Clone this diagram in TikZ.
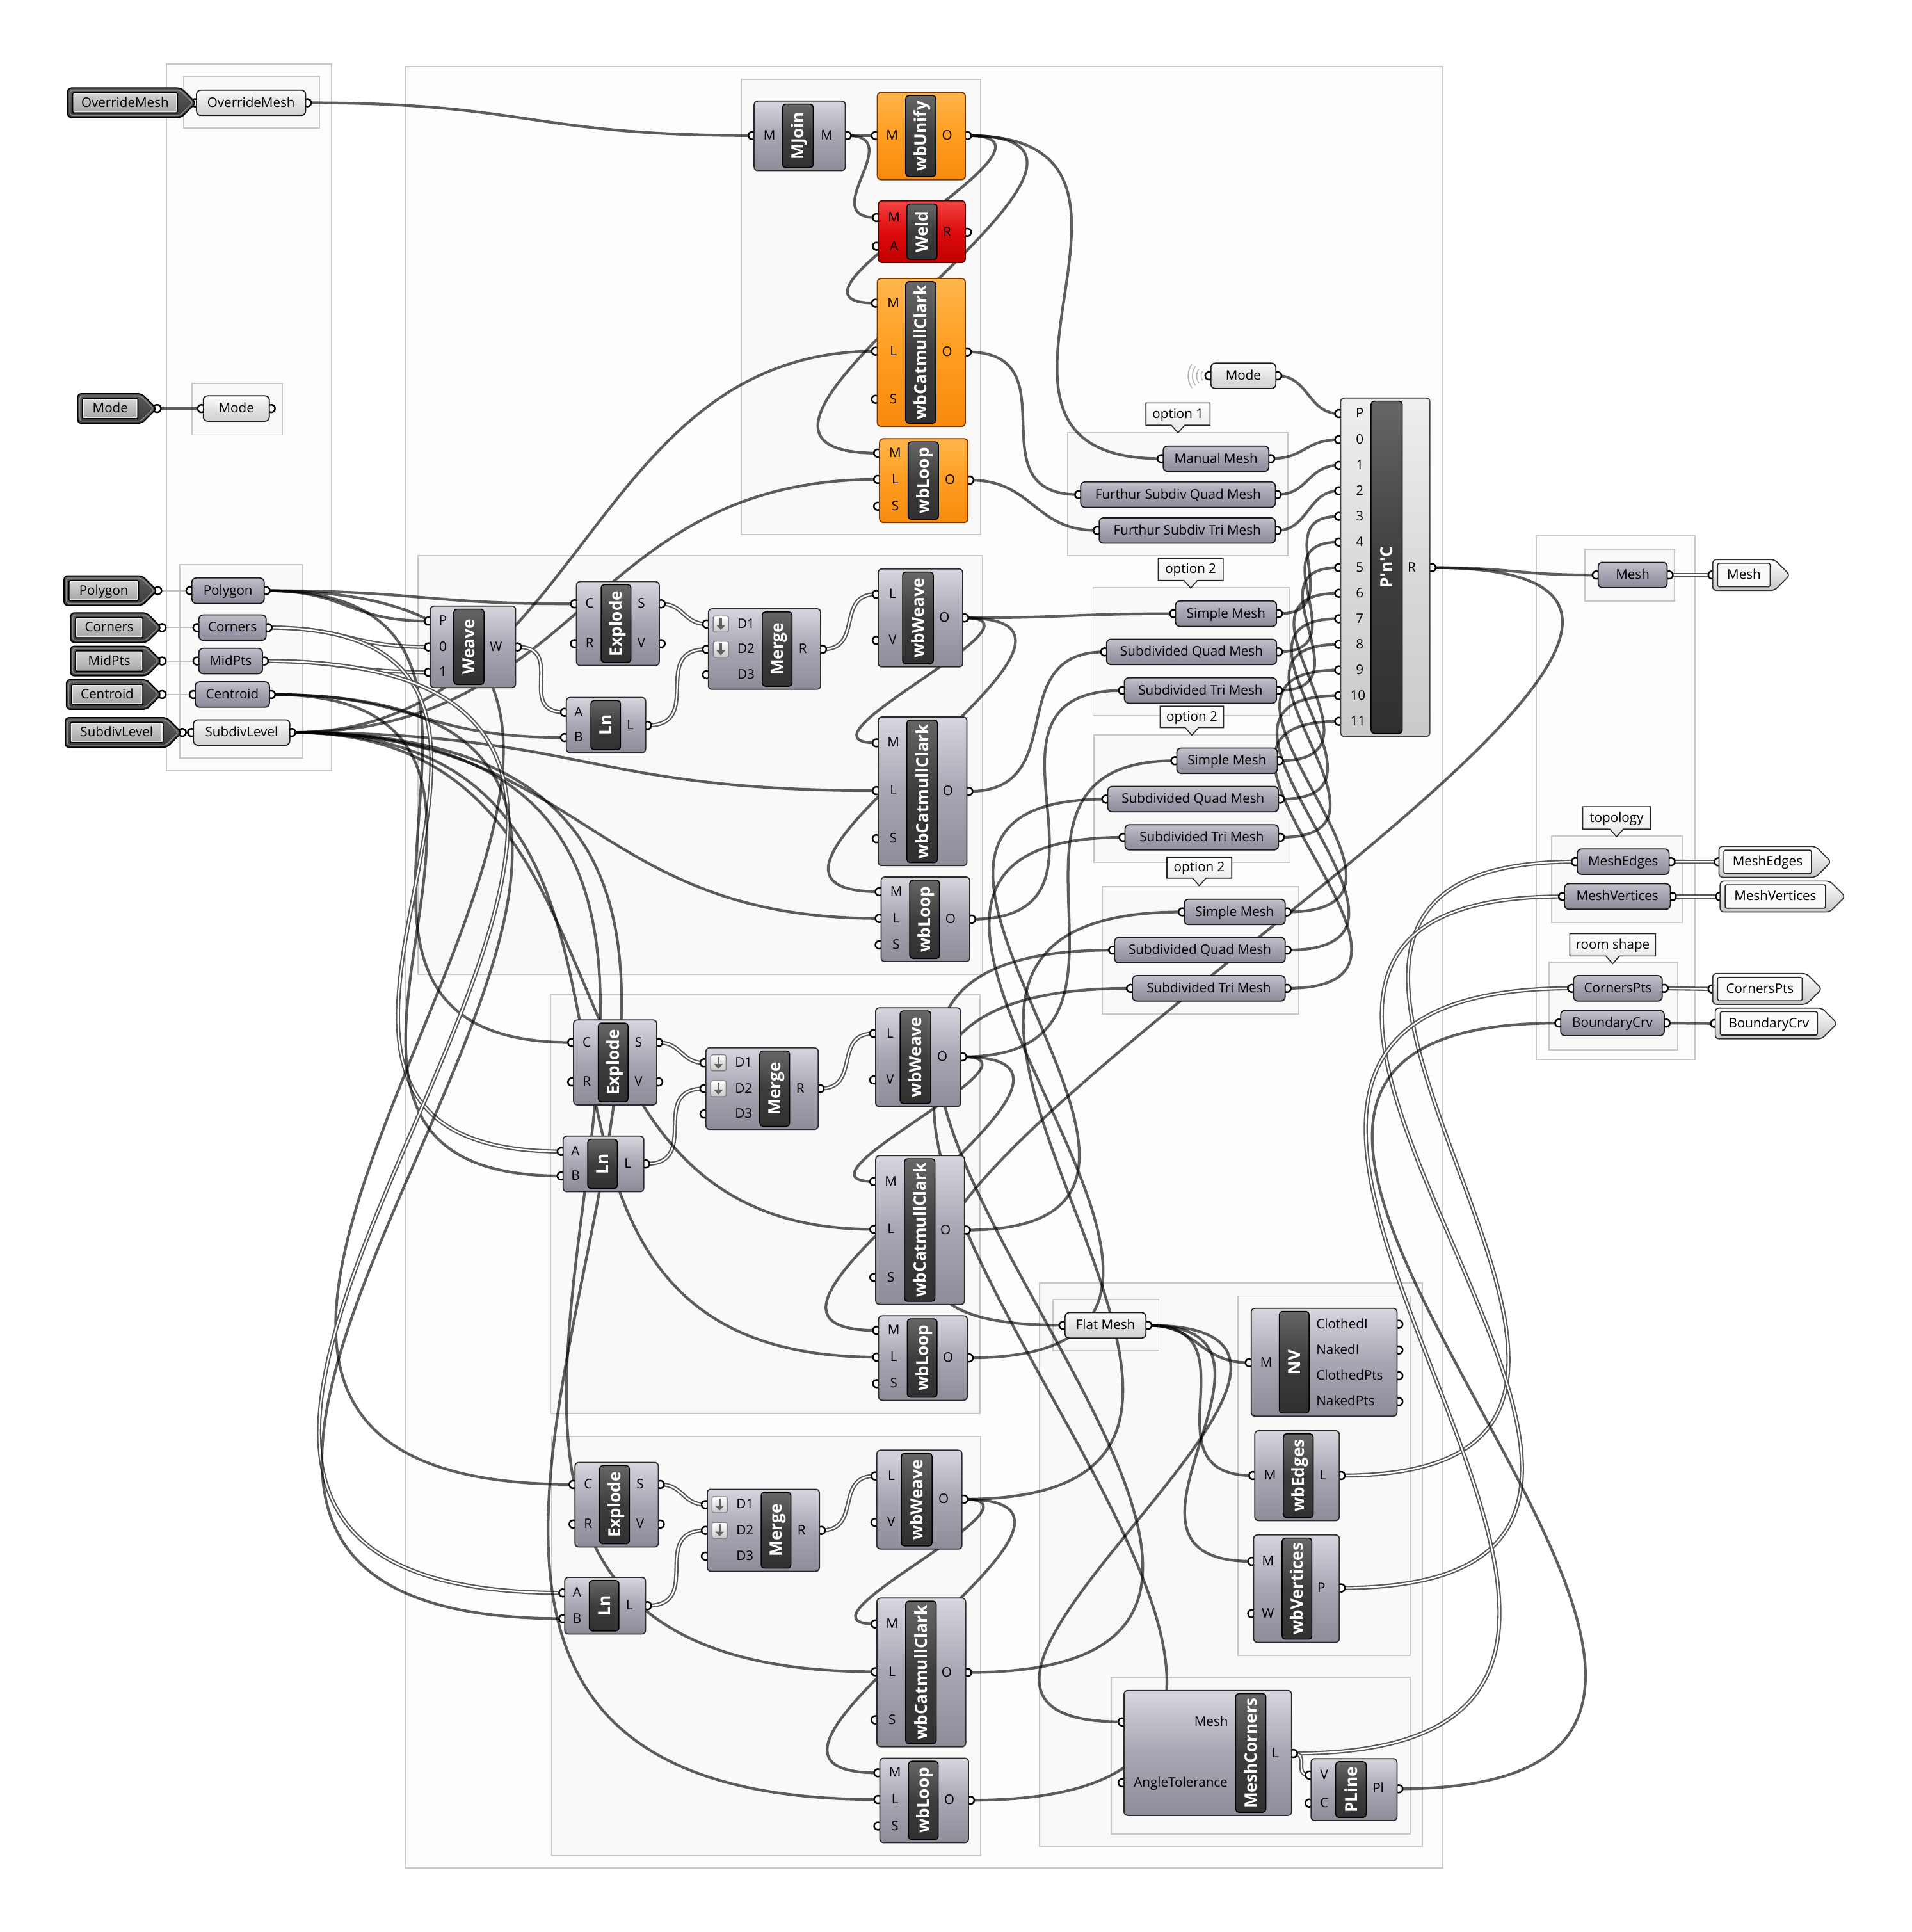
\documentclass[tikz,border=0pt]{standalone}
\usepackage{fontspec}
\setmainfont{Open Sans}
\usetikzlibrary{calc,arrows.meta}
\pgfdeclarelayer{groups}
\pgfdeclarelayer{wires}
\pgfdeclarelayer{ports}
\pgfsetlayers{groups,wires,ports,main}
\definecolor{grpline}{HTML}{C8C8C8}
\definecolor{grpfill}{HTML}{FDFDFD}
\definecolor{grpfilltwo}{HTML}{F9F9F9}
\definecolor{compline}{HTML}{2A2A2A}
\definecolor{compt}{HTML}{D6D6DE}
\definecolor{compm}{HTML}{A7A7B4}
\definecolor{compb}{HTML}{8D8D9A}
\definecolor{ort}{HTML}{FFB64C}
\definecolor{orm}{HTML}{FF9D20}
\definecolor{orb}{HTML}{F78A0E}
\definecolor{orline}{HTML}{7A3500}
\definecolor{redt}{HTML}{F24444}
\definecolor{redm}{HTML}{DD0C0C}
\definecolor{redb}{HTML}{C20000}
\definecolor{redline}{HTML}{550000}
\definecolor{pnct}{HTML}{EFEFEF}
\definecolor{pncm}{HTML}{DADADA}
\definecolor{pncb}{HTML}{CACACA}
\definecolor{lblt}{HTML}{666666}
\definecolor{lblm}{HTML}{3D3D3D}
\definecolor{lblb}{HTML}{303030}
\definecolor{part}{HTML}{C2C2CC}
\definecolor{parm}{HTML}{A2A2B0}
\definecolor{parb}{HTML}{8B8B99}
\definecolor{plt}{HTML}{FBFBFB}
\definecolor{plm}{HTML}{E4E4E4}
\definecolor{plb}{HTML}{D0D0D0}
\definecolor{tagtop}{HTML}{5C5C5C}
\definecolor{tagbot}{HTML}{3A3A3A}
\definecolor{tagt}{HTML}{D6D6D6}
\definecolor{tagb}{HTML}{A4A4A4}
\definecolor{wirec}{HTML}{585858}
\tikzset{
  grp/.style={draw=grpline,fill=grpfill,line width=1pt},
  grpin/.style={fill=grpfilltwo},
  compbox/.style={rectangle,rounded corners=3pt,draw=compline,line width=0.9pt,top color=compt,bottom color=compb,middle color=compm,inner sep=0pt,outer sep=0pt},
  orangebox/.style={draw=orline,top color=ort,bottom color=orb,middle color=orm},
  redbox/.style={draw=redline,top color=redt,bottom color=redb,middle color=redm},
  pncbox/.style={draw=black!75,top color=pnct,bottom color=pncb,middle color=pncm},
  lblbox/.style={rectangle,rounded corners=2.5pt,draw=black,line width=0.8pt,top color=lblt,bottom color=lblb,middle color=lblm,inner sep=0pt,outer sep=0pt},
  lbltext/.style={text=white,font=\fontsize{13.6}{14}\selectfont\bfseries,rotate=90,inner sep=0pt,text height=10.2pt,text depth=0.4pt},
  plab/.style={font=\fontsize{10.7}{12}\selectfont,text=black,inner sep=0pt,text height=7.6pt,text depth=0.8pt},
  parbox/.style={rectangle,rounded corners=3.5pt,draw=black!90,line width=0.9pt,top color=part,bottom color=parb,middle color=parm,inner sep=0pt,outer sep=0pt,font=\fontsize{10.7}{12}\selectfont,text height=7.6pt,text depth=0.8pt},
  parlight/.style={top color=plt,bottom color=plb,middle color=plm},
  portc/.style={draw=black,fill=white,line width=1.3pt},
  wire/.style={draw=black,draw opacity=0.63,line width=2.2pt},
  dbl/.style={draw=wirec,draw opacity=1,line width=1.1pt,double=white,double distance=1.15pt},
  taglink/.style={draw=black!25,line width=1pt},
  tagout/.style={draw=black,line width=1pt,top color=tagtop,bottom color=tagbot,rounded corners=3pt},
  taghl/.style={draw=black!45,line width=0.7pt,rounded corners=2pt},
  tagin/.style={rectangle,draw=black,line width=0.9pt,top color=tagt,bottom color=tagb,inner sep=0pt,rounded corners=1pt,font=\fontsize{10.7}{12}\selectfont,text height=7.6pt,text depth=0.8pt},
  tagil/.style={draw=white,draw opacity=0.7,line width=0.6pt},
  tagoutl/.style={draw=black!80,line width=0.9pt,top color=white,bottom color=black!22,rounded corners=3pt},
  taginl/.style={rectangle,draw=black!85,line width=0.8pt,fill=black!2,inner sep=0pt,rounded corners=1pt,font=\fontsize{10.7}{12}\selectfont,text height=7.6pt,text depth=0.8pt},
  tipshape/.style={draw=black!85,line width=0.8pt,top color=white,bottom color=black!10},
  micon/.style={rectangle,draw=black!50,line width=0.7pt,rounded corners=1.5pt,top color=white,bottom color=black!22,minimum width=12.5pt,minimum height=13pt,inner sep=0pt},
  miconarrow/.style={draw=black!62,line width=1.7pt,-{Triangle[length=3.8pt,width=6.8pt]}},
  wless/.style={draw=black!30,line width=0.8pt}
}
\newcommand\ghgrp[5][]{\begin{pgfonlayer}{groups}\draw[grp,#1] (#2,#3) rectangle (#4,#5);\end{pgfonlayer}}
\newcommand\ghpc[3]{\coordinate (#1) at (#2,#3);\begin{pgfonlayer}{ports}\draw[portc] (#2,#3) circle[radius=3.1pt];\end{pgfonlayer}}
\newcommand\ghpin[6][]{\ghpc{#2}{#3}{#4}\node[plab,#1] (#2-t) at (#5,#4) {#6};}
\newcommand\ghcomp[9][]{%
  \node[compbox,#1,minimum width={#5-#3},minimum height={#6-#4}] (#2) at ({(#3+#5)/2},{(#4+#6)/2}) {};
  \node[lblbox,minimum width={#8-#7},minimum height={#6-#4-5}] (#2-lb) at ({(#7+#8)/2},{(#4+#6)/2}) {};
  \node[lbltext] (#2-lt) at ({(#7+#8)/2},{(#4+#6)/2}) {#9};}
\newcommand\ghparam[6][]{%
  \node[parbox,#1,minimum width={#4-#3},minimum height=20.6] (#2) at ({(#3+#4)/2},#5) {#6};
  \ghpc{#2-i}{#3-1.5}{#5}\ghpc{#2-o}{#4+1.5}{#5}}
\newcommand\ghintag[5]{%
  \draw[tagout] (#2,#4-12) -- (#3-12,#4-12) -- (#3,#4) -- (#3-12,#4+12) -- (#2,#4+12) -- cycle;
  \draw[taghl] (#2+1.8,#4-10.2) -- (#3-12.8,#4-10.2) -- (#3-2.4,#4) -- (#3-12.8,#4+10.2) -- (#2+1.8,#4+10.2) -- cycle;
  \node[tagin,minimum width={#3-#2-19},minimum height=16.5] (#1) at ({(#2+#3-11)/2},#4) {};
  \draw[tagil] ($(#1.south west)+(1.4pt,1.4pt)$) rectangle ($(#1.north east)+(-1.4pt,-1.4pt)$);
  \node[plab] (#1-tx) at (#1.center) {#5};
  \ghpc{#1-o}{#3+0.5}{#4}}
\newcommand\ghouttag[5]{%
  \draw[tagoutl] (#2,#4-12.5) -- (#3-12.5,#4-12.5) -- (#3,#4) -- (#3-12.5,#4+12.5) -- (#2,#4+12.5) -- cycle;
  \node[taginl,minimum width={#3-#2-20},minimum height=19] (#1) at ({(#2+#3-12)/2},#4) {#5};
  \ghpc{#1-i}{#2-0.5}{#4}}
\newcommand\ghtip[6]{%
  \draw[tipshape] (#2,#3) -- (#4,#3) -- (#4,#5) -- ({(#2+#4)/2+5.5},#5) -- ({(#2+#4)/2},#5+6.2) -- ({(#2+#4)/2-5.5},#5) -- (#2,#5) -- cycle;
  \node[plab] (#1) at ({(#2+#4)/2},{(#3+#5)/2}) {#6};}
\newcommand\ghicon[3]{%
  \node[micon] (#1) at (#2,#3) {};
  \draw[miconarrow] (#2,#3-5) -- (#2,#3+4.8);}
\newcommand\ghwire[3][]{%
  \begin{pgfonlayer}{wires}
  \draw[wire,#1] let \p1=(#2),\p2=(#3),\n1={max(0.5*abs(\x2-\x1),0.75*abs(\y2-\y1))} in (\p1) .. controls (\x1+\n1*1pt,\y1) and (\x2-\n1*1pt,\y2) .. (\p2);
  \end{pgfonlayer}}
\begin{document}
\begin{tikzpicture}[x=1pt,y=-1pt]
\begin{pgfonlayer}{groups}
\fill[white] (0,0) rectangle (1551.2,1567.8);
\end{pgfonlayer}
\useasboundingbox (0,0) rectangle (1551.2,1567.8);
% ---------------- groups
\ghgrp{135}{52}{269}{625.5}
\ghgrp[grpin]{149}{62}{259}{104}
\ghgrp[grpin]{156}{311}{229}{353}
\ghgrp[grpin]{145.8}{458}{245.5}{615}
\ghgrp{328.6}{54}{1170.7}{1515.6}
\ghgrp[grpin]{601.5}{64.6}{796}{434}
\ghgrp[grpin]{339.3}{451}{797.2}{790.6}
\ghgrp[grpin]{447}{807.3}{795.3}{1147}
\ghgrp[grpin]{447.8}{1165.9}{796}{1505.8}
\ghgrp[grpin]{843.6}{1041}{1154.2}{1498.2}
\ghgrp[grpin]{854.3}{1054.4}{940.5}{1096.1}
\ghgrp[grpin]{1004.7}{1051.7}{1144.3}{1343.3}
\ghgrp[grpin]{902}{1361.2}{1144.3}{1488.1}
\ghgrp[grpin]{866.5}{351}{1045}{451}
\ghgrp[grpin]{887}{476.7}{1046.6}{580.8}
\ghgrp[grpin]{888}{596.4}{1047}{700}
\ghgrp[grpin]{894.6}{719.4}{1054}{823}
\ghgrp{1246.8}{435}{1375.6}{860}
\ghgrp[grpin]{1286}{445.7}{1359}{487.6}
\ghgrp[grpin]{1259}{678.5}{1365}{748.6}
\ghgrp[grpin]{1257}{781}{1361.6}{852}
% ---------------- input tags and params
\ghintag{tOM}{55}{159}{83.4}{OverrideMesh}
\ghintag{tMode}{63}{127}{331.5}{Mode}
\ghintag{tPoly}{52}{127.5}{479.3}{Polygon}
\ghintag{tCorn}{57.3}{131}{509.3}{Corners}
\ghintag{tMid}{57.3}{131}{536.4}{MidPts}
\ghintag{tCent}{54}{131}{563.6}{Centroid}
\ghintag{tSub}{53}{147.4}{594.4}{SubdivLevel}
\ghparam[parlight]{pOM}{159.5}{248}{83.4}{OverrideMesh}
\ghparam[parlight]{pMode}{165}{218.6}{331.5}{Mode}
\ghparam{pPoly}{155.7}{214.4}{479.3}{Polygon}
\ghparam{pCorn}{161.4}{216}{509.3}{Corners}
\ghparam{pMid}{161.4}{213}{536.4}{MidPts}
\ghparam{pCent}{158.4}{218.7}{563.6}{Centroid}
\ghparam[parlight]{pSub}{157}{235.2}{594.4}{SubdivLevel}
% ---------------- top group
\ghcomp{mjoin}{612}{82}{686}{138.5}{635}{660}{MJoin}
\ghpin{mjoin-Mi}{610.5}{110}{624.5}{M}
\ghpin{mjoin-Mo}{687.5}{110}{671}{M}
\ghcomp[orangebox]{unify}{712}{75}{783.4}{145.8}{735}{759.5}{wbUnify}
\ghpin{unify-M}{710.5}{110}{724}{M}
\ghpin{unify-O}{785}{110}{768.6}{O}
\ghcomp[redbox]{weld}{712.8}{163}{783.4}{213}{736}{760.5}{Weld}
\ghpin{weld-M}{711.3}{176.6}{725.5}{M}
\ghpin{weld-A}{711.3}{199.8}{725.5}{A}
\ghpin{weld-R}{785}{188.5}{768.6}{R}
\ghcomp[orangebox]{cc0}{712}{226}{783.4}{346}{735}{759.5}{wbCatmullClark}
\ghpin{cc0-M}{710.5}{246}{725}{M}
\ghpin{cc0-L}{710.5}{285}{725}{L}
\ghpin{cc0-S}{710.5}{324}{725}{S}
\ghpin{cc0-O}{785}{285.6}{768.6}{O}
\ghcomp[orangebox]{lp0}{713.8}{356}{785.5}{424}{737}{761.6}{wbLoop}
\ghpin{lp0-M}{712.3}{367.7}{726.5}{M}
\ghpin{lp0-L}{712.3}{389}{726.5}{L}
\ghpin{lp0-S}{712.3}{410.8}{726.5}{S}
\ghpin{lp0-O}{787}{389.6}{771}{O}
% ---------------- group 2
\ghcomp{weave}{349.2}{491.8}{418.5}{558}{368.3}{392.8}{Weave}
\ghpin{weave-P}{347.7}{504}{359.5}{P}
\ghpin{weave-0}{347.7}{525}{359.5}{0}
\ghpin{weave-1}{347.7}{545.5}{359.5}{1}
\ghpin{weave-W}{420}{525}{402.6}{W}
\ghcomp{ex2}{467.8}{472}{535}{540}{487.8}{512}{Explode}
\ghpin{ex2-C}{466.3}{490}{478.5}{C}
\ghpin{ex2-R}{466.3}{522.3}{478.5}{R}
\ghpin{ex2-S}{536.5}{490}{520.5}{S}
\ghpin{ex2-V}{536.5}{522.3}{520.5}{V}
\ghcomp{ln2}{459.6}{566}{524}{610.8}{479.5}{503.6}{Ln}
\ghpin{ln2-A}{458.1}{578}{469.5}{A}
\ghpin{ln2-B}{458.1}{598.5}{469.5}{B}
\ghpin{ln2-L}{525.5}{588.6}{511.5}{L}
\ghcomp{mg2}{574.9}{494}{666}{559.4}{618.6}{642.8}{Merge}
\ghpin{mg2-D1}{573.4}{506.4}{605.5}{D1}
\ghpin{mg2-D2}{573.4}{526.9}{605.5}{D2}
\ghpin{mg2-D3}{573.4}{547.5}{605.5}{D3}
\ghpin{mg2-R}{667.5}{526.9}{651.5}{R}
\ghicon{mg2-ia}{585}{506.4}
\ghicon{mg2-ib}{585}{526.9}
\ghcomp{ww2}{712.7}{461.7}{781.3}{541.2}{732.5}{757.4}{wbWeave}
\ghpin{ww2-L}{711.2}{482.2}{724.4}{L}
\ghpin{ww2-V}{711.2}{519.6}{724.4}{V}
\ghpin{ww2-O}{782.8}{501.4}{766.4}{O}
\ghcomp{cc2}{712.7}{581.8}{784.7}{702.5}{736}{760.8}{wbCatmullClark}
\ghpin{cc2-M}{711.2}{602.8}{725}{M}
\ghpin{cc2-L}{711.2}{641.6}{725}{L}
\ghpin{cc2-S}{711.2}{680.6}{725}{S}
\ghpin{cc2-O}{786.2}{642.2}{769.3}{O}
\ghcomp{lp2}{715}{711.7}{787}{780.3}{738.3}{762.4}{wbLoop}
\ghpin{lp2-M}{713.5}{723.6}{727.3}{M}
\ghpin{lp2-L}{713.5}{745.3}{727.3}{L}
\ghpin{lp2-S}{713.5}{766.8}{727.3}{S}
\ghpin{lp2-O}{788.5}{745.9}{771.4}{O}
% ---------------- group 3
\ghcomp{ex3}{465.5}{827.7}{533}{896.6}{485.5}{509.7}{Explode}
\ghpin{ex3-C}{464}{846}{476.2}{C}
\ghpin{ex3-R}{464}{878}{476.2}{R}
\ghpin{ex3-S}{534.5}{846}{518.2}{S}
\ghpin{ex3-V}{534.5}{878}{518.2}{V}
\ghcomp{ln3}{457}{922}{522.5}{967}{477}{501}{Ln}
\ghpin{ln3-A}{455.5}{934.4}{467}{A}
\ghpin{ln3-B}{455.5}{954.3}{467}{B}
\ghpin{ln3-L}{524}{944.5}{509.5}{L}
\ghcomp{mg3}{572.9}{850.3}{664}{916.5}{616.6}{640.8}{Merge}
\ghpin{mg3-D1}{571.4}{862.5}{603.5}{D1}
\ghpin{mg3-D2}{571.4}{883.4}{603.5}{D2}
\ghpin{mg3-D3}{571.4}{904}{603.5}{D3}
\ghpin{mg3-R}{665.5}{883.4}{649.5}{R}
\ghicon{mg3-ia}{583}{862.5}
\ghicon{mg3-ib}{583}{883.4}
\ghcomp{ww3}{710.6}{817.8}{779.7}{898}{730.5}{755.4}{wbWeave}
\ghpin{ww3-L}{709.1}{838.7}{722.3}{L}
\ghpin{ww3-V}{709.1}{876.4}{722.3}{V}
\ghpin{ww3-O}{781.2}{857.6}{764.8}{O}
\ghcomp{cc3}{710.7}{937.8}{782.7}{1058.5}{734}{758.8}{wbCatmullClark}
\ghpin{cc3-M}{709.2}{958.8}{723}{M}
\ghpin{cc3-L}{709.2}{997.6}{723}{L}
\ghpin{cc3-S}{709.2}{1036.6}{723}{S}
\ghpin{cc3-O}{784.2}{998.2}{767.3}{O}
\ghcomp{lp3}{713}{1067.7}{785}{1136.3}{736.3}{760.4}{wbLoop}
\ghpin{lp3-M}{711.5}{1079.6}{725.3}{M}
\ghpin{lp3-L}{711.5}{1101.3}{725.3}{L}
\ghpin{lp3-S}{711.5}{1122.8}{725.3}{S}
\ghpin{lp3-O}{786.5}{1101.9}{769.4}{O}
% ---------------- group 4
\ghcomp{ex4}{466.6}{1186.8}{534.3}{1255.3}{486.6}{510.8}{Explode}
\ghpin{ex4-C}{465.1}{1204.6}{477.3}{C}
\ghpin{ex4-R}{465.1}{1236.8}{477.3}{R}
\ghpin{ex4-S}{535.8}{1204.6}{519.5}{S}
\ghpin{ex4-V}{535.8}{1236.8}{519.5}{V}
\ghcomp{ln4}{458.3}{1280}{523.9}{1326}{478.2}{502.3}{Ln}
\ghpin{ln4-A}{456.8}{1292.6}{468.3}{A}
\ghpin{ln4-B}{456.8}{1313.5}{468.3}{B}
\ghpin{ln4-L}{525.4}{1303}{510.9}{L}
\ghcomp{mg4}{574}{1208.5}{665}{1275}{617.7}{641.9}{Merge}
\ghpin{mg4-D1}{572.5}{1221}{604.6}{D1}
\ghpin{mg4-D2}{572.5}{1241.9}{604.6}{D2}
\ghpin{mg4-D3}{572.5}{1262.8}{604.6}{D3}
\ghpin{mg4-R}{666.5}{1241.9}{650.5}{R}
\ghicon{mg4-ia}{584}{1221}
\ghicon{mg4-ib}{584}{1241.9}
\ghcomp{ww4}{711.6}{1176.8}{780.7}{1257}{731.5}{756.4}{wbWeave}
\ghpin{ww4-L}{710.1}{1197.7}{723.3}{L}
\ghpin{ww4-V}{710.1}{1235.4}{723.3}{V}
\ghpin{ww4-O}{782.2}{1216.6}{765.8}{O}
\ghcomp{cc4}{711.7}{1296.8}{783.7}{1417.5}{735}{759.8}{wbCatmullClark}
\ghpin{cc4-M}{710.2}{1317.8}{724}{M}
\ghpin{cc4-L}{710.2}{1356.6}{724}{L}
\ghpin{cc4-S}{710.2}{1395.6}{724}{S}
\ghpin{cc4-O}{785.2}{1357.2}{768.3}{O}
\ghcomp{lp4}{714}{1426.7}{786}{1495.3}{737.3}{761.4}{wbLoop}
\ghpin{lp4-M}{712.5}{1438.6}{726.3}{M}
\ghpin{lp4-L}{712.5}{1460.3}{726.3}{L}
\ghpin{lp4-S}{712.5}{1481.8}{726.3}{S}
\ghpin{lp4-O}{787.5}{1460.9}{770.4}{O}
% ---------------- option params
\ghtip{tt1}{930}{327}{982}{345}{option 1}
\ghtip{tt2}{940}{453}{992.6}{471}{option 2}
\ghtip{tt3}{941.5}{573}{993}{590.4}{option 2}
\ghtip{tt4}{947}{695.6}{999.6}{712.6}{option 2}
\ghtip{tt5}{1284.4}{654.6}{1339.5}{672.8}{topology}
\ghtip{tt6}{1274}{757.7}{1343.6}{775.8}{room shape}
\ghparam{mm}{944}{1029.7}{372.2}{Manual Mesh}
\ghparam{fq}{877}{1035}{401.4}{Furthur Subdiv Quad Mesh}
\ghparam{ft}{892}{1035}{430.5}{Furthur Subdiv Tri Mesh}
\ghparam{sm1}{954}{1036}{498}{Simple Mesh}
\ghparam{sq1}{898}{1036}{529}{Subdivided Quad Mesh}
\ghparam{st1}{912.5}{1036}{560.3}{Subdivided Tri Mesh}
\ghparam{sm2}{955}{1036.6}{617.3}{Simple Mesh}
\ghparam{sq2}{899}{1037.5}{648.5}{Subdivided Quad Mesh}
\ghparam{st2}{913}{1037.5}{679.5}{Subdivided Tri Mesh}
\ghparam{sm3}{961}{1043}{740}{Simple Mesh}
\ghparam{sq3}{904.5}{1043}{771}{Subdivided Quad Mesh}
\ghparam{st3}{919}{1043}{802}{Subdivided Tri Mesh}
% ---------------- Pick'n'Choose
\ghparam[parlight]{mode2}{982.7}{1035.4}{305}{Mode}
\foreach \r in {6.5,10,13.5,17}{\draw[wless] ($(mode2-i)+(145:\r pt)$) arc[start angle=145,end angle=215,radius=\r pt];}
\ghcomp[pncbox]{pnc}{1088}{323}{1160.4}{597.6}{1112.7}{1138}{P{\textquotesingle}n{\textquotesingle}C}
\ghpin{pnc-P}{1086.5}{335.6}{1103.5}{P}
\ghpin{pnc-0}{1086.5}{356.8}{1103.5}{0}
\ghpin{pnc-1}{1086.5}{377.6}{1103.5}{1}
\ghpin{pnc-2}{1086.5}{398.3}{1103.5}{2}
\ghpin{pnc-3}{1086.5}{419}{1103.5}{3}
\ghpin{pnc-4}{1086.5}{439.9}{1103.5}{4}
\ghpin{pnc-5}{1086.5}{460.6}{1103.5}{5}
\ghpin{pnc-6}{1086.5}{481.4}{1103.5}{6}
\ghpin{pnc-7}{1086.5}{502.1}{1103.5}{7}
\ghpin{pnc-8}{1086.5}{522.9}{1103.5}{8}
\ghpin{pnc-9}{1086.5}{543.7}{1103.5}{9}
\ghpin{pnc-10}{1086.5}{564.5}{1102}{10}
\ghpin{pnc-11}{1086.5}{585.3}{1102}{11}
\ghpin{pnc-R}{1162}{460.6}{1145.7}{R}
% ---------------- right outputs
\ghparam{mesh}{1297}{1353}{466.6}{Mesh}
\ghouttag{oMesh}{1390}{1452.6}{466.6}{Mesh}
\ghparam{medges}{1280}{1354.6}{699.3}{MeshEdges}
\ghouttag{oME}{1395}{1486}{699.4}{MeshEdges}
\ghparam{mverts}{1269.6}{1355.6}{727.5}{MeshVertices}
\ghouttag{oMV}{1396}{1497.5}{727.5}{MeshVertices}
\ghparam{cpts}{1277}{1349}{802}{CornersPts}
\ghouttag{oCP}{1390}{1478.5}{802.5}{CornersPts}
\ghparam{bcrv}{1266.6}{1350.6}{830.2}{BoundaryCrv}
\ghouttag{oBC}{1392}{1491}{830.5}{BoundaryCrv}
% ---------------- bottom right
\ghparam[parlight]{flat}{864.3}{930}{1075.5}{Flat Mesh}
\ghcomp{nv}{1015.4}{1061.7}{1133.7}{1149.2}{1038.2}{1062.4}{NV}
\ghpin{nv-M}{1013.9}{1105.8}{1027.6}{M}
\ghpin[anchor=west]{nv-CI}{1135.2}{1074.6}{1068}{ClothedI}
\ghpin[anchor=west]{nv-NI}{1135.2}{1095.5}{1068}{NakedI}
\ghpin[anchor=west]{nv-CP}{1135.2}{1116.4}{1068}{ClothedPts}
\ghpin[anchor=west]{nv-NP}{1135.2}{1137.3}{1068}{NakedPts}
\ghcomp{we}{1018.3}{1161}{1086.9}{1234}{1041.5}{1065.7}{wbEdges}
\ghpin{we-M}{1016.8}{1197.4}{1030.7}{M}
\ghpin{we-L}{1088.4}{1197.4}{1073.7}{L}
\ghcomp{wv}{1017.4}{1245.6}{1086.9}{1332.7}{1040.5}{1064.6}{wbVertices}
\ghpin{wv-M}{1015.9}{1267}{1029}{M}
\ghpin{wv-W}{1015.9}{1309.5}{1029}{W}
\ghpin{wv-P}{1088.4}{1288.6}{1072.4}{P}
\ghcomp{mc}{912.2}{1371.8}{1048.2}{1473.2}{1002.8}{1027.3}{MeshCorners}
\ghpin[anchor=east]{mc-Mesh}{910.7}{1397.3}{996.8}{Mesh}
\ghpin[anchor=west]{mc-AT}{910.7}{1446.7}{920}{AngleTolerance}
\ghpin{mc-L}{1049.7}{1422.9}{1035}{L}
\ghcomp{pl}{1064}{1427.1}{1133.7}{1477.4}{1084}{1108.8}{PLine}
\ghpin{pl-V}{1062.5}{1440.4}{1074.7}{V}
\ghpin{pl-C}{1062.5}{1463.2}{1074.7}{C}
\ghpin{pl-Pl}{1135.2}{1451.6}{1118.5}{Pl}
% ---------------- wires
\begin{pgfonlayer}{wires}
\draw[taglink] (tPoly-o) -- (pPoly-i);
\draw[taglink] (tCorn-o) -- (pCorn-i);
\draw[taglink] (tMid-o) -- (pMid-i);
\draw[taglink] (tCent-o) -- (pCent-i);
\draw[taglink] (tSub-o) -- (pSub-i);
\end{pgfonlayer}
\ghwire{tMode-o}{pMode-i}
\ghwire{pOM-o}{mjoin-Mi}
\ghwire{mjoin-Mo}{unify-M}
\ghwire{mjoin-Mo}{weld-M}
\ghwire{unify-O}{cc0-M}
\ghwire{unify-O}{lp0-M}
\ghwire{unify-O}{mm-i}
\ghwire{pSub-o}{cc0-L}
\ghwire{pSub-o}{lp0-L}
\ghwire{cc0-O}{fq-i}
\ghwire{lp0-O}{ft-i}
% group 2
\ghwire{pPoly-o}{weave-P}
\ghwire[dbl]{pCorn-o}{weave-0}
\ghwire[dbl]{pMid-o}{weave-1}
\ghwire{pPoly-o}{ex2-C}
\ghwire[dbl]{weave-W}{ln2-A}
\ghwire{pCent-o}{ln2-B}
\ghwire[dbl]{ex2-S}{mg2-D1}
\ghwire[dbl]{ln2-L}{mg2-D2}
\ghwire[dbl]{mg2-R}{ww2-L}
\ghwire{ww2-O}{cc2-M}
\ghwire{ww2-O}{lp2-M}
\ghwire{ww2-O}{sm1-i}
\ghwire{pSub-o}{cc2-L}
\ghwire{pSub-o}{lp2-L}
\ghwire{cc2-O}{sq1-i}
\ghwire{lp2-O}{st1-i}
% group 3
\ghwire{pPoly-o}{ex3-C}
\ghwire[dbl]{pCorn-o}{ln3-A}
\ghwire{pCent-o}{ln3-B}
\ghwire[dbl]{ex3-S}{mg3-D1}
\ghwire[dbl]{ln3-L}{mg3-D2}
\ghwire[dbl]{mg3-R}{ww3-L}
\ghwire{ww3-O}{cc3-M}
\ghwire{ww3-O}{lp3-M}
\ghwire{ww3-O}{sm2-i}
\ghwire{pSub-o}{cc3-L}
\ghwire{pSub-o}{lp3-L}
\ghwire{cc3-O}{sq2-i}
\ghwire{lp3-O}{st2-i}
% group 4
\ghwire{pPoly-o}{ex4-C}
\ghwire[dbl]{pMid-o}{ln4-A}
\ghwire{pCent-o}{ln4-B}
\ghwire[dbl]{ex4-S}{mg4-D1}
\ghwire[dbl]{ln4-L}{mg4-D2}
\ghwire[dbl]{mg4-R}{ww4-L}
\ghwire{ww4-O}{cc4-M}
\ghwire{ww4-O}{lp4-M}
\ghwire{ww4-O}{sm3-i}
\ghwire{pSub-o}{cc4-L}
\ghwire{pSub-o}{lp4-L}
\ghwire{cc4-O}{sq3-i}
\ghwire{lp4-O}{st3-i}
% pick'n'choose
\ghwire{mode2-o}{pnc-P}
\ghwire{mm-o}{pnc-0}
\ghwire{fq-o}{pnc-1}
\ghwire{ft-o}{pnc-2}
\ghwire{sm1-o}{pnc-3}
\ghwire{sq1-o}{pnc-4}
\ghwire{st1-o}{pnc-5}
\ghwire{sm2-o}{pnc-6}
\ghwire{sq2-o}{pnc-7}
\ghwire{st2-o}{pnc-8}
\ghwire{sm3-o}{pnc-9}
\ghwire{sq3-o}{pnc-10}
\ghwire{st3-o}{pnc-11}
\ghwire{pnc-R}{mesh-i}
\ghwire{pnc-R}{flat-i}
\ghwire[dbl]{mesh-o}{oMesh-i}
% bottom right
\ghwire{flat-o}{nv-M}
\ghwire{flat-o}{we-M}
\ghwire{flat-o}{wv-M}
\ghwire{flat-o}{mc-Mesh}
\ghwire[dbl]{we-L}{medges-i}
\ghwire[dbl]{wv-P}{mverts-i}
\ghwire[dbl]{mc-L}{cpts-i}
\ghwire[dbl]{mc-L}{pl-V}
\ghwire{pl-Pl}{bcrv-i}
\ghwire[dbl]{medges-o}{oME-i}
\ghwire[dbl]{mverts-o}{oMV-i}
\ghwire[dbl]{cpts-o}{oCP-i}
\ghwire{bcrv-o}{oBC-i}
\end{tikzpicture}
\end{document}
